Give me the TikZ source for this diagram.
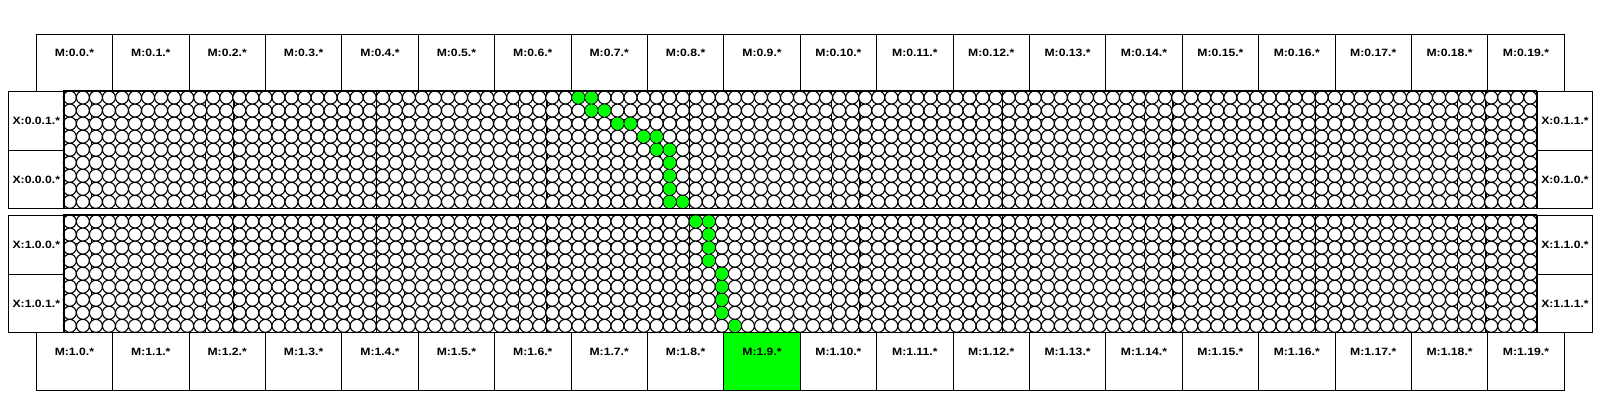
\documentclass[tikz,border=0pt]{standalone}
\usepackage{fontspec}
\setmainfont{Liberation Sans}[FakeStretch=1.15]
\definecolor{hitgreen}{RGB}{0,255,0}
\tikzset{
	mbox/.style={draw, line width=1pt, minimum width=76.4pt, minimum height=57.5pt, inner sep=0pt, anchor=north west},
	xbox/.style={draw, line width=1pt, minimum width=55.6pt, minimum height=58.7pt, inner sep=0pt, anchor=north west, font=\fontsize{10.6}{12}\bfseries},
	mlabel/.style={font=\fontsize{10.6}{12}\bfseries, anchor=center, yshift=-19pt},
	cell/.style={draw, line width=1.1pt, fill=white},
	hit/.style={fill=hitgreen},
}
\begin{document}
\begin{tikzpicture}[x=1pt, y=-1pt]
	\useasboundingbox (0,0) rectangle (1600,400);

	% Grids
	\foreach \b/\top in {0/91, 1/215} {
		\begin{scope}[shift={(63.3,\top)}, x=13.04pt, y=-13.04pt]
			\draw[line width=1.1pt] (0,0) grid (113,9);
			\foreach \c in {0,...,112}
				\draw[cell] \foreach \r in {0,...,8} {(\c+.5,\r+.5) circle[radius=.5]};
			\draw[line width=1pt] (0,0) rectangle (113,9);
		\end{scope}
	}

	% Path
	\begin{scope}[shift={(63.3,91)}, x=13.04pt, y=-13.04pt]
		\foreach \c/\r in {39/0,40/0,40/1,41/1,42/2,43/2,44/3,45/3,45/4,46/4,46/5,46/6,46/7,46/8,47/8}
			\fill[hit] (\c+.5,\r+.5) circle[radius=.47];
	\end{scope}
	\begin{scope}[shift={(63.3,215)}, x=13.04pt, y=-13.04pt]
		\foreach \c/\r in {48/0,49/0,49/1,49/2,49/3,50/4,50/5,50/6,50/7,51/8}
			\fill[hit] (\c+.5,\r+.5) circle[radius=.47];
	\end{scope}

	% Nodes
	\foreach \i in {0,...,19} {
		\node[mbox, label={[mlabel]north:{M:0.\i.*}}] (m0-\i) at ({35.7+76.4*\i},33.5) {};
		\node[mbox, label={[mlabel]north:{M:1.\i.*}}] (m1-\i) at ({35.7+76.4*\i},332.4) {};
	}
	\fill[hitgreen, draw=black, line width=1pt] (m1-9.north west) rectangle (m1-9.south east);
	\node[mlabel] at (m1-9.north) {M:1.9.*};

	\node[xbox] (x001) at (8,91) {X:0.0.1.*};
	\node[xbox] (x000) at (8,149.7) {X:0.0.0.*};
	\node[xbox] (x011) at (1536.7,91) {X:0.1.1.*};
	\node[xbox] (x010) at (1536.7,149.7) {X:0.1.0.*};
	\node[xbox] (x100) at (8,215) {X:1.0.0.*};
	\node[xbox] (x101) at (8,273.7) {X:1.0.1.*};
	\node[xbox] (x110) at (1536.7,215) {X:1.1.0.*};
	\node[xbox] (x111) at (1536.7,273.7) {X:1.1.1.*};
\end{tikzpicture}
\end{document}
